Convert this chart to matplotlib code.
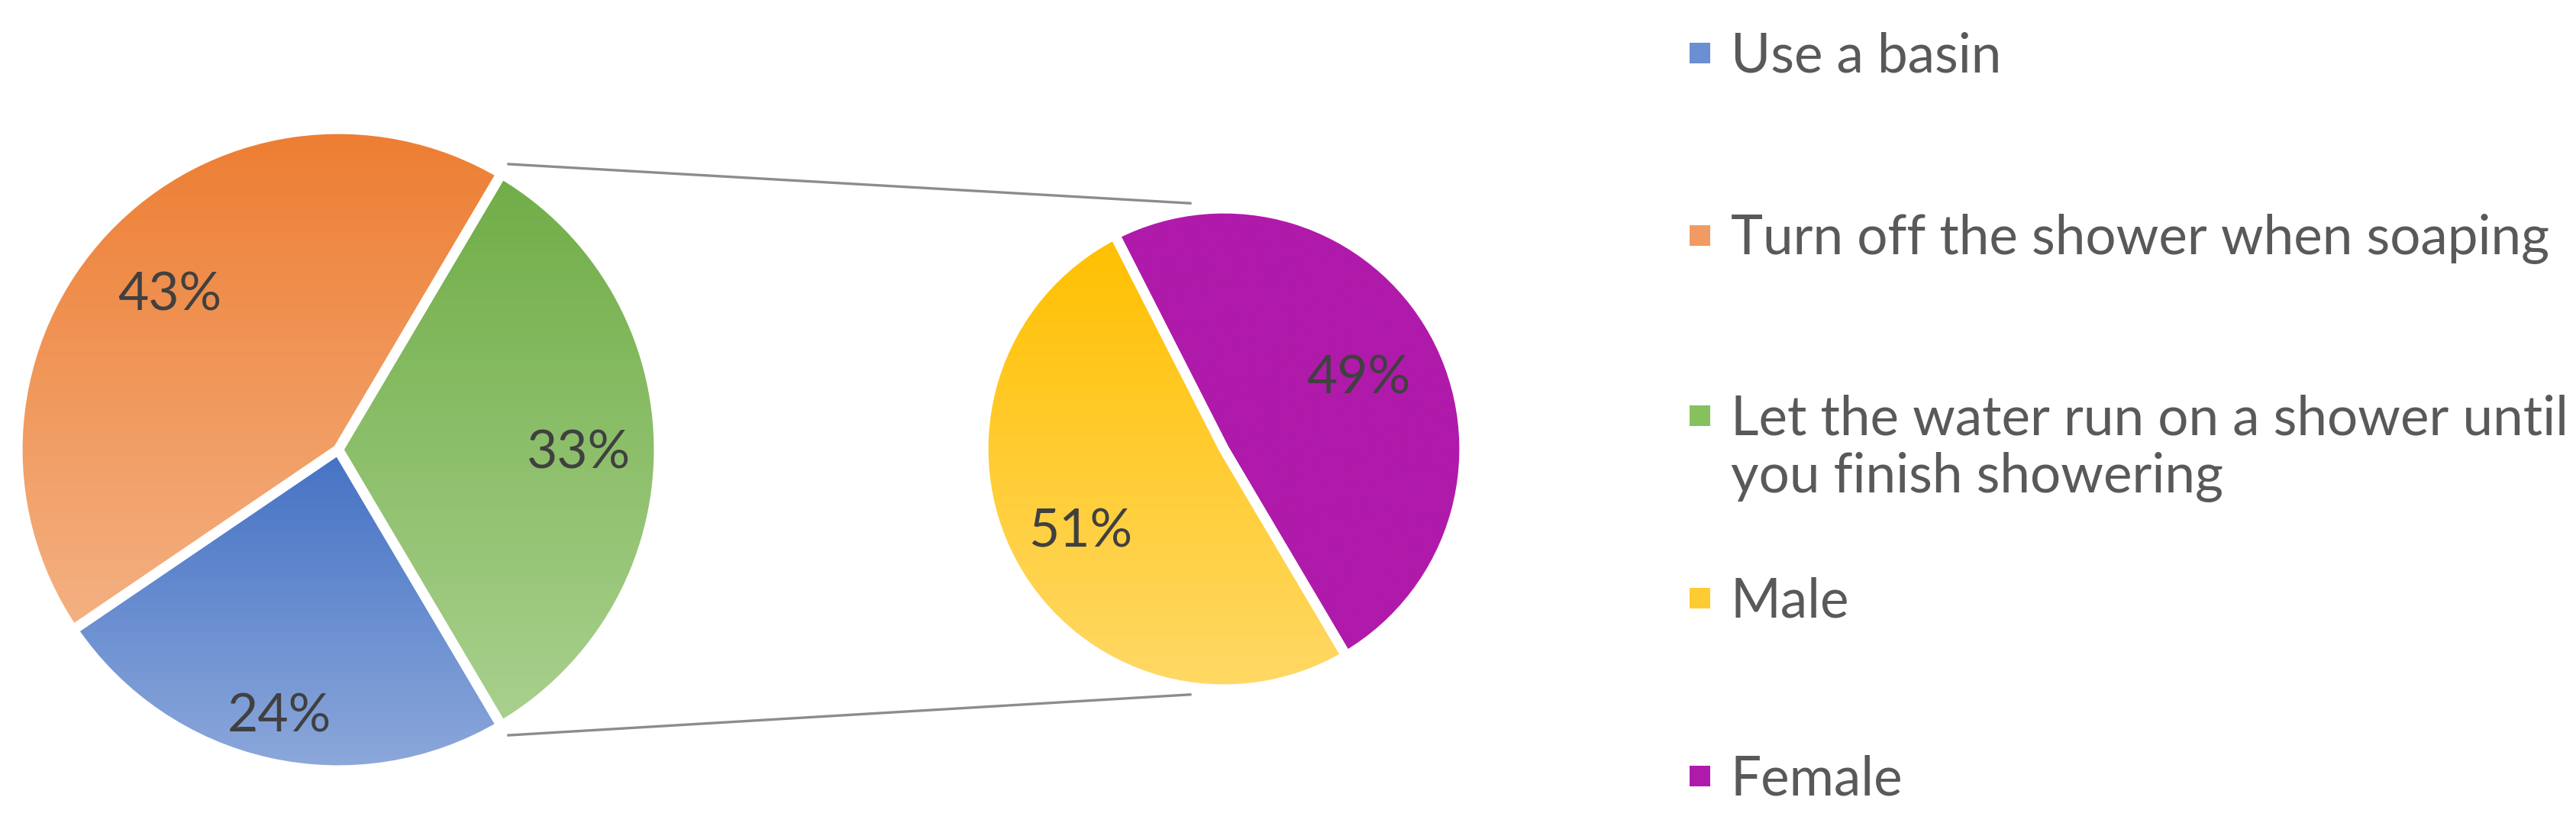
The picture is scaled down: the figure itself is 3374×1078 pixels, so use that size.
import matplotlib
matplotlib.use("Agg")
import matplotlib.pyplot as plt
import numpy as np
from matplotlib.colors import LinearSegmentedColormap
from matplotlib.patches import Rectangle

# ---------------- data ----------------
main_labels = ["Use a basin",
               "Turn off the shower when soaping",
               "Let the water run on a shower until\nyou finish showering"]
main_values = [24, 43, 33]
sub_labels = ["Male", "Female"]
sub_values = [51, 49]

# ---------------- style ----------------
main_grad = [("#4472C4", "#8FAADC"), ("#ED7D31", "#F4B183"), ("#70AD47", "#A9D18E")]
sub_grad = [("#FFC000", "#FFD966"), ("#B01AAA", "#B01AAA")]
legend_colors = ["#6A8FD2", "#F19A63", "#86C05F", "#FFCB33", "#B01AAA"]

plt.rcParams['font.family'] = ['Lato', 'DejaVu Sans']

W, H = 3374, 1078
fig = plt.figure(figsize=(W / 100, H / 100), dpi=100)
ax = fig.add_axes([0, 0, 1, 1])

EDGE = 9.5
C1 = (443, H - 589); R1 = 420
C2 = (1603, H - 588); R2 = 315

split_span = main_values[-1] / sum(main_values) * 360
start = -split_span / 2

w1, _ = ax.pie(main_values, center=C1, radius=R1, startangle=start, counterclock=False,
               wedgeprops=dict(facecolor='none', edgecolor='white', linewidth=EDGE, zorder=3))
w2, _ = ax.pie(sub_values, center=C2, radius=R2, startangle=start, counterclock=False,
               wedgeprops=dict(facecolor='none', edgecolor='white', linewidth=EDGE, zorder=3))

grad = np.linspace(0, 1, 256).reshape(-1, 1)


def fill_gradient(wedge, c_top, c_bot):
    v = wedge.get_path().vertices
    x0, x1 = v[:, 0].min(), v[:, 0].max()
    y0, y1 = v[:, 1].min(), v[:, 1].max()
    cmap = LinearSegmentedColormap.from_list("g", [c_top, c_bot])
    im = ax.imshow(grad, cmap=cmap, extent=(x0, x1, y0, y1), origin='upper',
                   aspect='auto', zorder=1, interpolation='bilinear')
    im.set_clip_path(wedge)


for w, (ct, cb) in zip(w1, main_grad):
    fill_gradient(w, ct, cb)
for w, (ct, cb) in zip(w2, sub_grad):
    fill_gradient(w, ct, cb)

# percentage labels
label_fs = 50
label_cap = 0.7165 * label_fs * 100 / 72
main_rfrac = [0.84, 0.72, 0.75]
sub_rfrac = [0.68, 0.64]


def put_labels(wedges, values, center, radius, rfrac):
    tot = sum(values)
    for w, v, f in zip(wedges, values, rfrac):
        mid = np.deg2rad((w.theta1 + w.theta2) / 2)
        x = center[0] + f * radius * np.cos(mid)
        y = center[1] + f * radius * np.sin(mid)
        ax.text(x, y - label_cap / 2, f"{v / tot * 100:.0f}%", ha='center', va='baseline',
                fontsize=label_fs, color='#404040', zorder=5)


put_labels(w1, main_values, C1, R1, main_rfrac)
put_labels(w2, sub_values, C2, R2, sub_rfrac)

# connector lines
sw = w1[-1]
for th_main, th_sub in ((sw.theta2, 97.5), (sw.theta1, -97.5)):
    a = np.deg2rad(th_main)
    b = np.deg2rad(th_sub)
    p0 = (C1[0] + 1.035 * R1 * np.cos(a), C1[1] + 1.035 * R1 * np.sin(a))
    p1 = (C2[0] + 1.03 * R2 * np.cos(b), C2[1] + 1.03 * R2 * np.sin(b))
    ax.plot([p0[0], p1[0]], [p0[1], p1[1]], color='#8C8C8C', lw=2.4, zorder=2,
            solid_capstyle='butt')

# legend (manual, Excel-like layout)
leg_rows = [69, 308, 544, 783, 1016]
leg_labels = main_labels + sub_labels
mk_x, mk_size, txt_x = 2213, 27, 2267
leg_fs = 50
line_gap = 76

# auto-fit font size to the reference width of the longest single-line entry
probe = ax.text(0, 0, main_labels[1], fontsize=leg_fs)
fig.canvas.draw()
wpx = probe.get_window_extent(fig.canvas.get_renderer()).width
probe.remove()
leg_fs = leg_fs * 1072 / wpx
cap = 0.7165 * leg_fs * 100 / 72

for yrow, lab, col in zip(leg_rows, leg_labels, legend_colors):
    yc = H - yrow
    ax.add_patch(Rectangle((mk_x, yc - mk_size / 2), mk_size, mk_size,
                           facecolor=col, edgecolor='none', zorder=4))
    for i, line in enumerate(lab.split("\n")):
        ax.text(txt_x, yc - cap / 2 - i * line_gap, line, fontsize=leg_fs,
                color='#595959', ha='left', va='baseline', zorder=5)

ax.set_xlim(0, W)
ax.set_ylim(0, H)
ax.set_aspect('auto')
ax.axis('off')

fig.savefig("out.png", dpi=100, facecolor='white')
